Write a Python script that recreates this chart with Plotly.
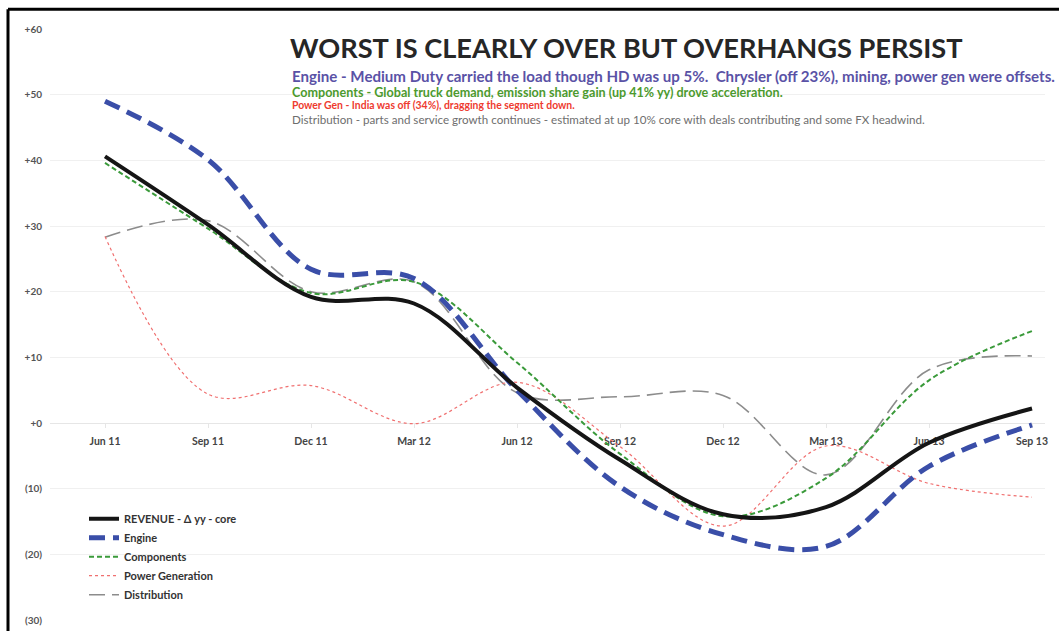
import plotly.graph_objects as go

quarters = ["Jun 11", "Sep 11", "Dec 11", "Mar 12", "Jun 12", "Sep 12", "Dec 12", "Mar 13", "Jun 13", "Sep 13"]
revenue = [40.6, 30.2, 19.2, 18.2, 5.4, -5.6, -13.9, -12.8, -3.0, 2.2]
engine = [49.0, 40.1, 23.4, 22.0, 5.0, -9.7, -17.0, -18.8, -6.6, -0.3]
components = [39.6, 29.6, 19.8, 21.5, 9.2, -4.7, -14.2, -8.4, 6.5, 14.0]
power_gen = [28.4, 4.4, 5.7, -0.1, 6.2, -3.6, -15.7, -3.5, -9.2, -11.3]
distribution = [28.3, 30.8, 20.0, 21.5, 4.6, 4.0, 4.2, -7.9, 8.1, 10.2]

y_tickvals = [60, 50, 40, 30, 20, 10, 0, -10, -20, -30]
y_ticktext = ["+60", "+50", "+40", "+30", "+20", "+10", "+0", "(10)", "(20)", "(30)"]

title_text = "WORST IS CLEARLY OVER BUT OVERHANGS PERSIST"
notes = [
    ("Engine - Medium Duty carried the load though HD was up 5%.  Chrysler (off 23%), mining, power gen were offsets.", "#5a52a6", 15.1, True, 65),
    ("Components - Global truck demand, emission share gain (up 41% yy) drove acceleration.", "#4c9a2e", 12.6, True, 84),
    ("Power Gen - India was off (34%), dragging the segment down.", "#ee3b30", 10.4, True, 98),
    ("Distribution - parts and service growth continues - estimated at up 10% core with deals contributing and some FX headwind.", "#6e6e6e", 11.6, False, 112),
]

W, H = 1059, 637
ML, MR, MT, MB = 50, 14, 29, 11
PW, PH = W - ML - MR, H - MT - MB
FONT = "Lato"


def px(x):
    return (x - ML) / PW


def py(y):
    return (H - MB - y) / PH


fig = go.Figure()

series = [
    ("REVENUE - Δ yy - core", revenue, dict(color="#151515", width=4, dash="solid")),
    ("Engine", engine, dict(color="#3a4ea8", width=5, dash="16px,8px")),
    ("Components", components, dict(color="#3a9a3a", width=2, dash="5px,3px")),
    ("Power Generation", power_gen, dict(color="#f07070", width=1.2, dash="dot")),
    ("Distribution", distribution, dict(color="#8c8c8c", width=1.6, dash="16px,7px")),
]
order = [4, 3, 2, 1, 0]
for i in order:
    name, vals, line = series[i]
    fig.add_trace(go.Scatter(
        x=quarters, y=vals, name=name, mode="lines",
        line=dict(shape="spline", smoothing=1.0, **line),
        legendgroup=name, legendrank=i + 1, hoverinfo="skip",
    ))

fig.add_annotation(
    text=f"<b>{title_text}</b>", xref="paper", yref="paper", x=px(288), y=py(29),
    xanchor="left", yanchor="top", showarrow=False,
    font=dict(family=FONT, size=27.2, color="#262626"),
)
for text, color, size, bold, top in notes:
    fig.add_annotation(
        text=f"<b>{text}</b>" if bold else text, xref="paper", yref="paper",
        x=px(290), y=py(top), xanchor="left", yanchor="top", showarrow=False,
        font=dict(family=FONT, size=size, color=color),
    )

fig.add_shape(type="line", xref="paper", yref="paper", x0=px(8), x1=px(8), y0=py(9), y1=py(H),
              line=dict(color="black", width=3))
fig.add_shape(type="line", xref="paper", yref="paper", x0=px(8), x1=px(W), y0=py(9), y1=py(9),
              line=dict(color="black", width=3))

fig.update_layout(
    width=W, height=H,
    margin=dict(l=ML, r=MR, t=MT, b=MB),
    paper_bgcolor="white", plot_bgcolor="white",
    font=dict(family=FONT, color="#444"),
    showlegend=True,
    legend=dict(
        x=px(84), y=py(509), xanchor="left", yanchor="top",
        font=dict(family=FONT, size=11, color="#333", weight="bold"),
        bgcolor="rgba(0,0,0,0)", itemwidth=30, tracegroupgap=0,
        traceorder="grouped",
    ),
    xaxis=dict(
        type="category", range=[-0.534, 9.126],
        anchor="free", position=30 / 90,
        showline=True, linecolor="#e6e6e6", linewidth=1,
        ticks="outside", ticklen=4, tickcolor="#e6e6e6",
        ticklabelstandoff=4,
        showgrid=False, zeroline=False,
        tickfont=dict(family=FONT, size=10.5, color="#444", weight="bold"),
        layer="below traces",
    ),
    yaxis=dict(
        range=[-30, 60], tickvals=y_tickvals, ticktext=y_ticktext,
        showgrid=True, gridcolor="#f0f0f0", gridwidth=1,
        zeroline=False, showline=False, ticks="",
        tickfont=dict(family=FONT, size=10, color="#555", weight="bold"),
        ticklabelstandoff=7,
        layer="below traces",
    ),
)

fig.write_html("out.html", post_script="document.body.style.margin='0';",
               config={"displayModeBar": False})
